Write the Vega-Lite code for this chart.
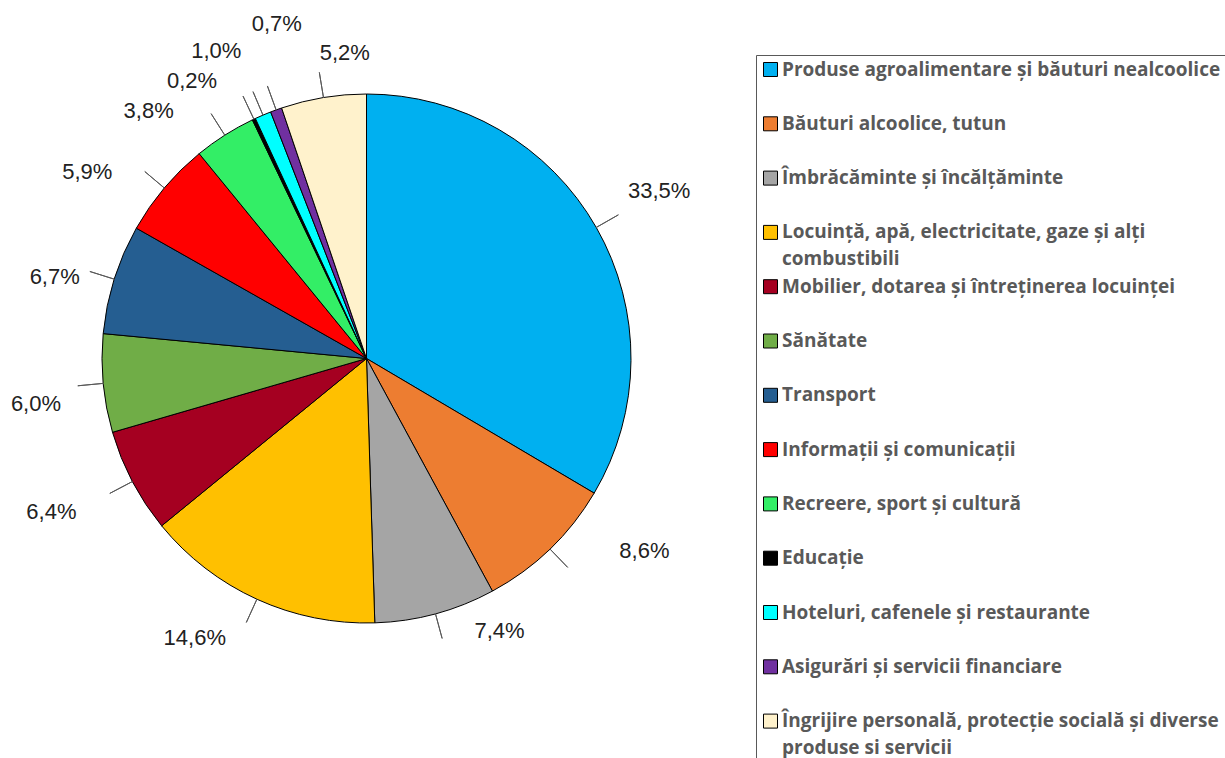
{
  "$schema": "https://vega.github.io/schema/vega-lite/v6.json",
  "width": 733,
  "height": 717,
  "autosize": {"type": "none"},
  "padding": {"left": 0, "top": 0, "right": 492, "bottom": 41},
  "background": "white",
  "view": {"stroke": null},
  "config": {"style": {"guide-label": {"lineHeight": 27}}},
  "data": {
    "values": [
      {"order": 1, "category": "Produse agroalimentare și băuturi nealcoolice", "pct": 33.5, "label": "33,5%"},
      {"order": 2, "category": "Băuturi alcoolice, tutun", "pct": 8.6, "label": "8,6%"},
      {"order": 3, "category": "Îmbrăcăminte și încălțăminte", "pct": 7.4, "label": "7,4%"},
      {"order": 4, "category": "Locuință, apă, electricitate, gaze și alți combustibili", "pct": 14.6, "label": "14,6%"},
      {"order": 5, "category": "Mobilier, dotarea și întreținerea locuinței", "pct": 6.4, "label": "6,4%"},
      {"order": 6, "category": "Sănătate", "pct": 6.0, "label": "6,0%"},
      {"order": 7, "category": "Transport", "pct": 6.7, "label": "6,7%"},
      {"order": 8, "category": "Informații și comunicații", "pct": 5.9, "label": "5,9%"},
      {"order": 9, "category": "Recreere, sport și cultură", "pct": 3.8, "label": "3,8%"},
      {"order": 10, "category": "Educație", "pct": 0.2, "label": "0,2%"},
      {"order": 11, "category": "Hoteluri, cafenele și restaurante", "pct": 1.0, "label": "1,0%"},
      {"order": 12, "category": "Asigurări și servicii financiare", "pct": 0.7, "label": "0,7%"},
      {"order": 13, "category": "Îngrijire personală, protecție socială și diverse produse si servicii", "pct": 5.2, "label": "5,2%"}
    ]
  },
  "transform": [
    {"stack": "pct", "groupby": [], "sort": [{"field": "order", "order": "ascending"}], "as": ["p0", "p1"]},
    {"fold": ["p0", "p1"], "as": ["k", "v"]},
    {"aggregate": [{"op": "mean", "field": "v", "as": "mid"}], "groupby": ["order", "category", "pct", "label", "p0", "p1"]}
  ],
  "layer": [
    {
      "mark": {"type": "arc", "outerRadius": 264.5, "stroke": "#000000", "strokeWidth": 1},
      "encoding": {
        "theta": {"field": "p0", "type": "quantitative", "scale": {"domain": [0, 100]}},
        "theta2": {"field": "p1"},
        "color": {
          "field": "category",
          "type": "nominal",
          "scale": {
            "domain": [
              "Produse agroalimentare și băuturi nealcoolice",
              "Băuturi alcoolice, tutun",
              "Îmbrăcăminte și încălțăminte",
              "Locuință, apă, electricitate, gaze și alți combustibili",
              "Mobilier, dotarea și întreținerea locuinței",
              "Sănătate",
              "Transport",
              "Informații și comunicații",
              "Recreere, sport și cultură",
              "Educație",
              "Hoteluri, cafenele și restaurante",
              "Asigurări și servicii financiare",
              "Îngrijire personală, protecție socială și diverse produse si servicii"
            ],
            "range": ["#00B0F0", "#ED7D31", "#A5A5A5", "#FFC000", "#A50021", "#70AD47", "#255E91", "#FF0000", "#33EE66", "#000000", "#00FFFF", "#7030A0", "#FFF2CC"]
          },
          "legend": {
            "orient": "none",
            "legendX": 756,
            "legendY": 55,
            "title": null,
            "symbolType": "square",
            "symbolSize": 196,
            "symbolStrokeColor": "#000000",
            "symbolStrokeWidth": 1,
            "symbolOffset": 0,
            "labelFont": "Open Sans",
            "labelFontSize": 19,
            "labelFontWeight": "bold",
            "labelColor": "#595959",
            "labelLimit": 700,
            "labelOffset": 2,
            "rowPadding": 7.3,
            "padding": 5,
            "gridAlign": "all",
            "strokeColor": "#595959",
            "labelExpr": "datum.label == 'Locuință, apă, electricitate, gaze și alți combustibili' ? ['Locuință, apă, electricitate, gaze și alți', 'combustibili'] : datum.label == 'Îngrijire personală, protecție socială și diverse produse si servicii' ? ['Îngrijire personală, protecție socială și diverse', 'produse si servicii'] : datum.label"
          }
        }
      }
    },
    {
      "mark": {"type": "arc", "radius": 290, "radius2": 264.5, "stroke": "#595959", "strokeWidth": 1, "fill": null},
      "encoding": {
        "theta": {"field": "mid", "type": "quantitative", "scale": {"domain": [0, 100]}},
        "theta2": {"field": "mid"}
      }
    },
    {"transform": [{"filter": "datum.order == 1"}], "mark": {"type": "text", "radius": 330, "dx": 6, "dy": -4, "font": "Liberation Sans", "fontSize": 22, "fill": "#222222"}, "encoding": {"theta": {"field": "mid", "type": "quantitative", "scale": {"domain": [0, 100]}}, "text": {"field": "label"}}},
    {"transform": [{"filter": "datum.order == 2"}], "mark": {"type": "text", "radius": 330, "dx": 49, "dy": -45, "font": "Liberation Sans", "fontSize": 22, "fill": "#222222"}, "encoding": {"theta": {"field": "mid", "type": "quantitative", "scale": {"domain": [0, 100]}}, "text": {"field": "label"}}},
    {"transform": [{"filter": "datum.order == 3"}], "mark": {"type": "text", "radius": 330, "dx": 47, "dy": -46, "font": "Liberation Sans", "fontSize": 22, "fill": "#222222"}, "encoding": {"theta": {"field": "mid", "type": "quantitative", "scale": {"domain": [0, 100]}}, "text": {"field": "label"}}},
    {"transform": [{"filter": "datum.order == 4"}], "mark": {"type": "text", "radius": 330, "dx": -35, "dy": -21, "font": "Liberation Sans", "fontSize": 22, "fill": "#222222"}, "encoding": {"theta": {"field": "mid", "type": "quantitative", "scale": {"domain": [0, 100]}}, "text": {"field": "label"}}},
    {"transform": [{"filter": "datum.order == 5"}], "mark": {"type": "text", "radius": 330, "dx": -23, "dy": 0, "font": "Liberation Sans", "fontSize": 22, "fill": "#222222"}, "encoding": {"theta": {"field": "mid", "type": "quantitative", "scale": {"domain": [0, 100]}}, "text": {"field": "label"}}},
    {"transform": [{"filter": "datum.order == 6"}], "mark": {"type": "text", "radius": 330, "dx": -2, "dy": 14, "font": "Liberation Sans", "fontSize": 22, "fill": "#222222"}, "encoding": {"theta": {"field": "mid", "type": "quantitative", "scale": {"domain": [0, 100]}}, "text": {"field": "label"}}},
    {"transform": [{"filter": "datum.order == 7"}], "mark": {"type": "text", "radius": 330, "dx": 3, "dy": 18, "font": "Liberation Sans", "fontSize": 22, "fill": "#222222"}, "encoding": {"theta": {"field": "mid", "type": "quantitative", "scale": {"domain": [0, 100]}}, "text": {"field": "label"}}},
    {"transform": [{"filter": "datum.order == 8"}], "mark": {"type": "text", "radius": 330, "dx": -27, "dy": 26, "font": "Liberation Sans", "fontSize": 22, "fill": "#222222"}, "encoding": {"theta": {"field": "mid", "type": "quantitative", "scale": {"domain": [0, 100]}}, "text": {"field": "label"}}},
    {"transform": [{"filter": "datum.order == 9"}], "mark": {"type": "text", "radius": 330, "dx": -41, "dy": 31, "font": "Liberation Sans", "fontSize": 22, "fill": "#222222"}, "encoding": {"theta": {"field": "mid", "type": "quantitative", "scale": {"domain": [0, 100]}}, "text": {"field": "label"}}},
    {"transform": [{"filter": "datum.order == 10"}], "mark": {"type": "text", "radius": 330, "dx": -34, "dy": 21, "font": "Liberation Sans", "fontSize": 22, "fill": "#222222"}, "encoding": {"theta": {"field": "mid", "type": "quantitative", "scale": {"domain": [0, 100]}}, "text": {"field": "label"}}},
    {"transform": [{"filter": "datum.order == 11"}], "mark": {"type": "text", "radius": 330, "dx": -21, "dy": -4, "font": "Liberation Sans", "fontSize": 22, "fill": "#222222"}, "encoding": {"theta": {"field": "mid", "type": "quantitative", "scale": {"domain": [0, 100]}}, "text": {"field": "label"}}},
    {"transform": [{"filter": "datum.order == 12"}], "mark": {"type": "text", "radius": 330, "dx": 23, "dy": -24, "font": "Liberation Sans", "fontSize": 22, "fill": "#222222"}, "encoding": {"theta": {"field": "mid", "type": "quantitative", "scale": {"domain": [0, 100]}}, "text": {"field": "label"}}},
    {"transform": [{"filter": "datum.order == 13"}], "mark": {"type": "text", "radius": 330, "dx": 32, "dy": 20, "font": "Liberation Sans", "fontSize": 22, "fill": "#222222"}, "encoding": {"theta": {"field": "mid", "type": "quantitative", "scale": {"domain": [0, 100]}}, "text": {"field": "label"}}}
  ]
}
